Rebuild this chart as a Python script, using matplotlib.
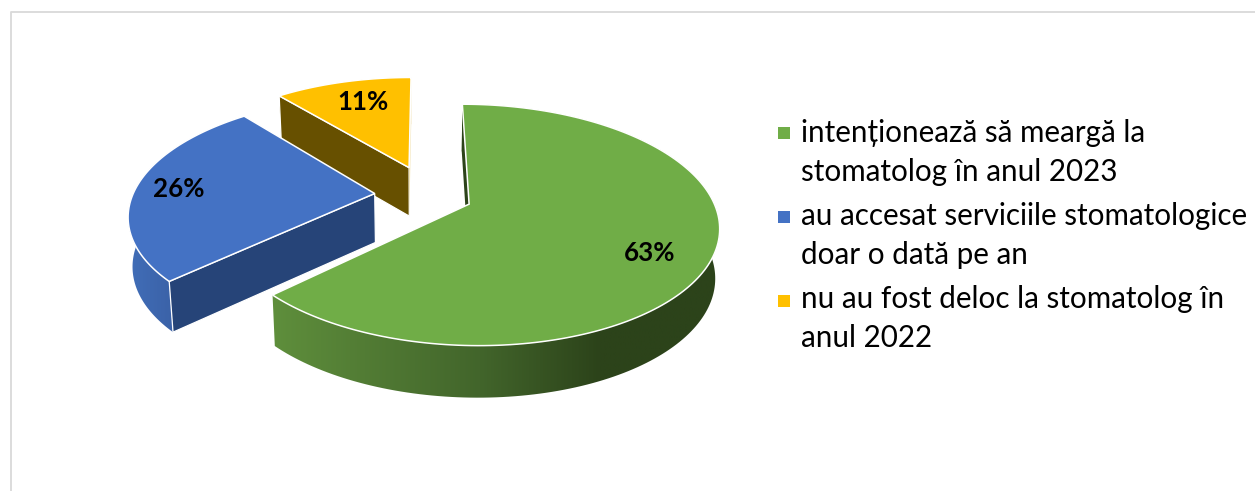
import matplotlib
matplotlib.use("Agg")
import matplotlib.pyplot as plt
import numpy as np
from matplotlib.colors import to_rgb
from matplotlib.patches import Polygon, Rectangle

plt.rcParams['font.family'] = ['Lato', 'DejaVu Sans']

# date
shares = [63, 26, 11]
legend_lines = [
    ["intenționează să meargă la", "stomatolog în anul 2023"],
    ["au accesat serviciile stomatologice", "doar o dată pe an"],
    ["nu au fost deloc la stomatolog în", "anul 2022"],
]

# culori
top_colors = ['#70ad47', '#4472c4', '#ffc000']
cut_colors = ['#2c431a', '#264478', '#675000']
wall_stops = [
    [(270, '#5f8f3c'), (480, '#42652b'), (600, '#2c431a'), (725, '#2c431a')],
    [(120, '#4270bb'), (180, '#3a60a5')],
    [(270, '#ead08a'), (420, '#ead08a')],
]

# geometria discului
CX, CY = 423, 195
A, B = 242, 114
K = 0.17
H = 49
SHRINK_X, SHRINK_Y = 0.015, 0.053
offsets = [(0.188, -0.079), (-0.2, 0.013), (-0.06, 0.25)]

label_xy = [(650, 253), (179, 189), (363, 102)]
legend_y = [(142, 181), (225, 264), (308, 347)]
marker_y = [133, 217, 300.5]


def proj(x, y, z=0.0):
    s = 1 / (1 + K * y)
    return CX + A * x * s * (1 - SHRINK_X * z), CY - B * y * s * (1 - SHRINK_Y * z) + H * z * s


fig = plt.figure(figsize=(12.55, 4.91), dpi=100)
ax = fig.add_axes([0, 0, 1, 1])

# ramka
ax.plot([10.5, 10.5, 1255], [491, 12, 12], color='#d9d9d9', lw=1.3, zorder=1)

# unghiuri felii
fractions = np.array(shares) / sum(shares)
ends = np.cumsum(fractions) * 2 * np.pi
starts = ends - fractions * 2 * np.pi

z = 2
# od tylu do przodu
for i in [2, 1, 0]:
    ox, oy = offsets[i]
    th = np.linspace(starts[i], ends[i], 181)
    rx, ry = ox + np.sin(th), oy + np.cos(th)

    # sciana zewnetrzna z gradientem
    upper = [proj(a, b) for a, b in zip(rx, ry)]
    lower = [proj(a, b, 1) for a, b in zip(rx, ry)]
    band = Polygon(upper + lower[::-1], closed=True, transform=ax.transData)
    xs = np.linspace(wall_stops[i][0][0], wall_stops[i][-1][0], 300)
    rgb = np.array([to_rgb(p[1]) for p in wall_stops[i]])
    stops_x = [p[0] for p in wall_stops[i]]
    grad = np.stack([np.interp(xs, stops_x, rgb[:, c]) for c in range(3)], axis=-1)[None, :, :]
    im = ax.imshow(grad, extent=(xs[0], xs[-1], 420, 60), aspect='auto', interpolation='bilinear', zorder=z)
    im.set_clip_path(band)
    z += 1

    # sciana przekroju
    face = [proj(ox, oy), proj(rx[0], ry[0]), proj(rx[0], ry[0], 1), proj(ox, oy, 1)]
    edge = 0 if i == 0 else 0.9
    ax.add_patch(Polygon(face, closed=True, facecolor=cut_colors[i], edgecolor='white', lw=edge, zorder=z))
    z += 1
    if i == 2:
        sliver = [proj(ox, oy), proj(rx[-1], ry[-1]), proj(rx[-1], ry[-1], 1), proj(ox, oy, 1)]
        ax.add_patch(Polygon(sliver, closed=True, facecolor='#f3e3b0', edgecolor='none', zorder=z))
        z += 1

    # wierzch
    top = [proj(ox, oy)] + upper
    ax.add_patch(Polygon(top, closed=True, facecolor=top_colors[i], edgecolor='white', lw=1.1, zorder=z))
    z += 1

# etykiety
for v, (x, y) in zip(shares, label_xy):
    ax.text(x, y, f"{v}%", ha='center', va='center', fontsize=18.7, fontweight='bold', color='black', zorder=z)

# legenda
for lines, ys, my, c in zip(legend_lines, legend_y, marker_y, top_colors):
    ax.add_patch(Rectangle((778, my - 6), 12, 12, facecolor=c, edgecolor='none', zorder=z))
    for txt, y in zip(lines, ys):
        ax.text(801, y, txt, ha='left', va='baseline', fontsize=21.3, color='black', zorder=z)

ax.set_xlim(0, 1255)
ax.set_ylim(491, 0)
ax.axis('off')

fig.savefig('out.png', dpi=100)
